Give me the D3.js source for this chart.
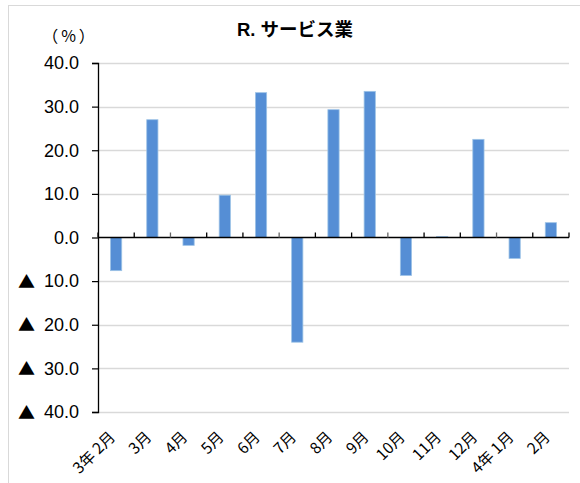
<!DOCTYPE html>
<html><head><meta charset="utf-8">
<script src="https://cdn.jsdelivr.net/npm/d3@7"></script>
<style>
body{margin:0;background:#fff;}
text{font-family:"Liberation Sans","Noto Sans CJK JP",sans-serif;}
</style></head>
<body><svg id="c" width="580" height="483"></svg>
<script>
const categories = ["3年 2月","3月","4月","5月","6月","7月","8月","9月","10月","11月","12月","4年 1月","2月"];
const values = [-7.6, 27.0, -1.8, 9.7, 33.2, -24.0, 29.3, 33.5, -8.7, 0.2, 22.5, -4.8, 3.4];
const yTicks = [40, 30, 20, 10, 0, -10, -20, -30, -40];
const title = "R. サービス業";
const unitLabel = "（%）";

const svg = d3.select("#c");
const L = 98, R = 569, T = 63, B = 412;

// outer border
svg.append("rect").attr("x",8.5).attr("y",5.5).attr("width",600).attr("height",600)
  .attr("fill","none").attr("stroke","#d9d9d9").attr("stroke-width",1);

const x = d3.scaleBand().domain(categories).range([L, R]).paddingInner(0.69).paddingOuter(0.345);
const xb = d3.scaleBand().domain(categories).range([L, R]);
const y = d3.scaleLinear().domain([-40, 40]).range([B, T]);

// gridlines
svg.append("g").selectAll("line").data(yTicks.filter(d=>d!==0)).join("line")
  .attr("x1",L).attr("x2",R).attr("y1",d=>Math.round(y(d))+0.5).attr("y2",d=>Math.round(y(d))+0.5)
  .attr("stroke","#d9d9d9").attr("stroke-width",1.3);

// bars
svg.append("g").selectAll("rect").data(values).join("rect")
  .attr("x",(d,i)=>x(categories[i]))
  .attr("width",x.bandwidth())
  .attr("y",d=>y(Math.max(0,d)))
  .attr("height",d=>Math.abs(y(d)-y(0)))
  .attr("fill","#558ed5").attr("stroke","#9dc3e6").attr("stroke-width",0.8);

// y axis
const yAxis = d3.axisLeft(y).tickValues(yTicks).tickSize(6).tickPadding(13)
  .tickFormat(d => Math.abs(d).toFixed(1));
const ga = svg.append("g").attr("transform",`translate(${L},0)`).call(yAxis);
ga.select(".domain").attr("stroke","#000").attr("stroke-width",1.3);
ga.selectAll(".tick line").attr("stroke","#000").attr("stroke-width",1.2);
ga.selectAll(".tick text").attr("font-size",18).attr("fill","#000");
ga.selectAll(".tick").filter(d=>d<0).append("text")
  .attr("x",-63).attr("dy","0.36em").attr("text-anchor","end")
  .attr("font-size",17).attr("fill","#000").style("font-family","Noto Sans CJK JP").text("▲");

// zero line with ticks
const boundaries = categories.map(c=>xb(c)).concat([R]);
svg.append("line").attr("x1",L).attr("x2",R).attr("y1",y(0)).attr("y2",y(0))
  .attr("stroke","#000").attr("stroke-width",1.5);
svg.append("g").selectAll("line").data(boundaries).join("line")
  .attr("x1",d=>d).attr("x2",d=>d).attr("y1",y(0)).attr("y2",y(0)-5)
  .attr("stroke",(d,i)=> (i%3===2)?"#666":"#000").attr("stroke-width",1.3);

// x labels
svg.append("g").selectAll("text").data(categories).join("text")
  .attr("transform",c=>`translate(${xb(c)+xb.bandwidth()/2},438) rotate(-45)`)
  .attr("text-anchor","end").attr("font-size",15.5).attr("fill","#000")
  .style("font-family","Noto Sans CJK JP").text(c=>c);

// title
svg.append("text").attr("x",295).attr("y",36).attr("text-anchor","middle")
  .attr("font-size",18.5).attr("font-weight","bold").attr("fill","#000").text(title);
svg.append("text").attr("x",70).attr("y",42).attr("text-anchor","middle")
  .attr("font-size",16).attr("letter-spacing",3).attr("fill","#000")
  .style("font-family","Noto Sans CJK JP").text(unitLabel);
</script></body></html>
